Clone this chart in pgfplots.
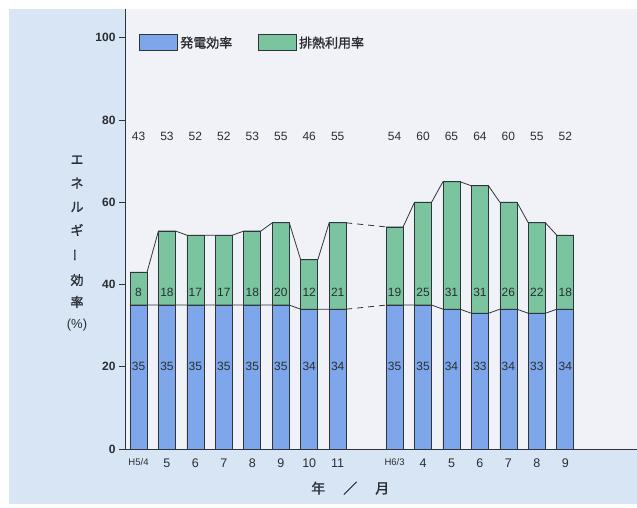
\documentclass[border=0pt]{standalone}
\usepackage{fontspec}
\setmainfont{Liberation Sans}
\newfontfamily\cjk[FakeBold=1.2,AutoFakeBold=1.2]{Noto Sans CJK JP}
\usepackage{pgfplots}
\pgfplotsset{compat=1.18}
\usepackage{pgfplotstable}

\definecolor{bgblue}{HTML}{D7E5F5}
\definecolor{panel}{HTML}{F0F2F7}
\definecolor{barblue}{HTML}{7DA7EA}
\definecolor{bargreen}{HTML}{7BC4A0}
\definecolor{edge}{HTML}{30353B}
\definecolor{txt}{HTML}{2A2E33}

\pgfplotstableread{
x  blue green total
0  35   8     43
1  35   18    53
2  35   17    52
3  35   17    52
4  35   18    53
5  35   20    55
6  34   12    46
7  34   21    55
9  35   19    54
10 35   25    60
11 34   31    65
12 33   31    64
13 34   26    60
14 33   22    55
15 34   18    52
}\data

\begin{document}
\begin{tikzpicture}[x=1pt,y=1pt]
\useasboundingbox (0,0) rectangle (637,508);
\fill[white] (0,0) rectangle (637,508);
\fill[bgblue] (9,4) rectangle (637,499);
\fill[panel] (125,59) rectangle (637,499);
\begin{axis}[
  at={(125pt,59pt)}, anchor=south west,
  scale only axis, width=512pt, height=440pt,
  xmin=-0.475, xmax=17.52, ymin=0, ymax=107,
  axis x line=bottom, axis y line=left,
  axis line style={-, draw=edge, line width=0.9pt},
  xtick={0,1,2,3,4,5,6,7,9,10,11,12,13,14,15},
  xticklabels={{\fontsize{9.5}{9.5}\selectfont H5/4},5,6,7,8,9,10,11,{\fontsize{9.5}{9.5}\selectfont H6/3},4,5,6,7,8,9},
  xtick style={draw=none},
  ytick={0,20,40,60,80,100},
  ytick style={draw=edge, line width=0.8pt},
  tick align=outside, major tick length=6pt,
  xticklabel style={font=\fontsize{12.5}{12}\selectfont, color=txt},
  yticklabel style={font=\bfseries\fontsize{12}{12}\selectfont, color=txt},
  /pgf/number format/assume math mode=true,
  xlabel={\cjk 年\hspace{18pt}／\hspace{18pt}月},
  xlabel style={at={(axis description cs:0.44,-0.089)}, anchor=center, font=\fontsize{14}{14}\selectfont, color=txt},
  legend columns=2,
  legend style={at={(0.022,0.923)}, anchor=west, draw=none, fill=none,
    font=\cjk\fontsize{13}{13}\selectfont, text=txt,
    /tikz/every even column/.append style={column sep=24pt}},
  legend image code/.code={\draw[#1, draw=edge, line width=0.8pt] (0pt,-8pt) rectangle (38pt,8pt);},
]
% green part (stacked on blue): drawn as full-height bar, blue drawn over it
\addplot[ybar, bar width=17pt, bar shift=0pt, fill=bargreen, draw=edge, line width=0.8pt, forget plot]
  table[x=x, y=total] {\data};
\addplot[ybar, bar width=17pt, bar shift=0pt, fill=barblue, draw=edge, line width=0.8pt, forget plot]
  table[x=x, y=blue] {\data};
% legend entries
\addlegendimage{fill=barblue}
\addlegendentry{発電効率}
\addlegendimage{fill=bargreen}
\addlegendentry{排熱利用率}
% connecting lines
\addplot[draw=edge, line width=0.8pt, forget plot] coordinates {
 (-0.3,43)(0.3,43)(0.7,53)(1.3,53)(1.7,52)(2.3,52)(2.7,52)(3.3,52)(3.7,53)(4.3,53)(4.7,55)(5.3,55)(5.7,46)(6.3,46)(6.7,55)(7.3,55)};
\addplot[draw=edge, line width=0.8pt, dashed, dash pattern=on 6pt off 5pt, forget plot] coordinates {(7.3,55)(8.7,54)};
\addplot[draw=edge, line width=0.8pt, forget plot] coordinates {
 (8.7,54)(9.3,54)(9.7,60)(10.3,60)(10.7,65)(11.3,65)(11.7,64)(12.3,64)(12.7,60)(13.3,60)(13.7,55)(14.3,55)(14.7,52)(15.3,52)};
\addplot[draw=edge, line width=0.8pt, forget plot] coordinates {
 (-0.3,35)(0.3,35)(0.7,35)(1.3,35)(1.7,35)(2.3,35)(2.7,35)(3.3,35)(3.7,35)(4.3,35)(4.7,35)(5.3,35)(5.7,34)(6.3,34)(6.7,34)(7.3,34)};
\addplot[draw=edge, line width=0.8pt, dashed, dash pattern=on 6pt off 5pt, forget plot] coordinates {(7.3,34)(8.7,35)};
\addplot[draw=edge, line width=0.8pt, forget plot] coordinates {
 (8.7,35)(9.3,35)(9.7,35)(10.3,35)(10.7,34)(11.3,34)(11.7,33)(12.3,33)(12.7,34)(13.3,34)(13.7,33)(14.3,33)(14.7,34)(15.3,34)};
% value labels
\addplot[draw=none, mark=none, forget plot, nodes near coords, point meta=explicit,
  every node near coord/.append style={anchor=center, font=\fontsize{12}{12}\selectfont, color=txt}]
  table[x=x, y expr=20, meta=blue] {\data};
\addplot[draw=none, mark=none, forget plot, nodes near coords, point meta=explicit,
  every node near coord/.append style={anchor=center, font=\fontsize{12}{12}\selectfont, color=txt}]
  table[x=x, y expr=38.2, meta=green] {\data};
\addplot[draw=none, mark=none, forget plot, nodes near coords, point meta=explicit,
  every node near coord/.append style={anchor=center, font=\fontsize{12}{12}\selectfont, color=txt}]
  table[x=x, y expr=76, meta=total] {\data};
\end{axis}
% vertical y-axis title
\begin{scope}[every node/.style={font=\cjk\fontsize{13}{13}\selectfont, text=txt, anchor=center, inner sep=0pt}]
\node at (77,348) {エ};
\node at (77,325) {ネ};
\node at (77,301) {ル};
\node at (77,278) {ギ};
\node at (77,253) {\rotatebox{90}{ー}};
\node at (77,228) {効};
\node at (77,206) {率};
\node[font=\fontsize{13}{13}\selectfont] at (77,183) {(\%)};
\end{scope}
\end{tikzpicture}
\end{document}
